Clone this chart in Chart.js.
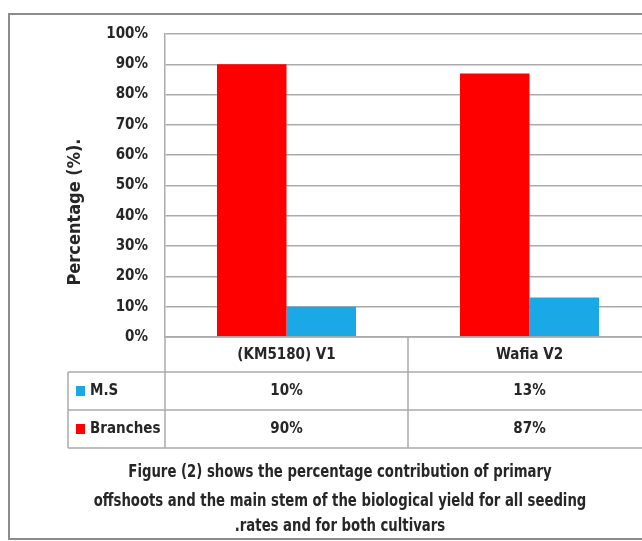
<!DOCTYPE html>
<html>
<head>
<meta charset="utf-8">
<title>Primary offshoots and main stem contribution</title>
<script src="https://cdn.jsdelivr.net/npm/chart.js@4.4.1/dist/chart.umd.min.js"></script>
<style>
  html, body { margin: 0; padding: 0; background: #fff; overflow: hidden; }
  #wrap { position: relative; width: 651px; height: 541px; }
</style>
</head>
<body>
<div id="wrap"><canvas id="canvas" width="651" height="541"></canvas></div>
<script>
// cultivars on the x axis and the two contributions (%)
var cultivars = ['(KM5180) V1', 'Wafia V2'];
var branches = [90, 87];
var mainStem = [10, 13];

var captionLines = [
    'Figure (2) shows the percentage contribution of primary',
    'offshoots and the main stem of the biological yield for all seeding',
    '.rates and for both cultivars'
];

var RED = '#ff0000';
var BLUE = '#1ba8e6';
var GRID = '#ababab';
var TEXT = '#262626';
var FONT = "'DejaVu Sans Condensed', 'Liberation Sans Narrow', sans-serif";

// frame, data table, axis title and caption
var tablePlugin = {
    id: 'dataTable',
    beforeDraw: function(chart) {
        var ctx = chart.ctx;
        ctx.save();
        ctx.fillStyle = '#fff';
        ctx.fillRect(0, 0, chart.width, chart.height);
        ctx.strokeStyle = '#8c8c8c';
        ctx.lineWidth = 2;
        ctx.strokeRect(9, 14, chart.width + 20, 525);
        ctx.restore();
    },
    afterDraw: function(chart) {
        var ctx = chart.ctx;
        var area = chart.chartArea;
        var xs = chart.scales.x;
        var top = area.bottom;
        var rowY = [top, top + 35, top + 73, top + 111];
        var legendLeft = 68;
        var mid = (xs.getPixelForValue(0) + xs.getPixelForValue(1)) / 2;

        ctx.save();
        ctx.strokeStyle = GRID;
        ctx.lineWidth = 1.5;
        ctx.beginPath();
        ctx.moveTo(area.left, rowY[0]); ctx.lineTo(chart.width, rowY[0]);
        for (var i = 1; i < rowY.length; i++) {
            ctx.moveTo(legendLeft, rowY[i]); ctx.lineTo(chart.width, rowY[i]);
        }
        ctx.moveTo(legendLeft, rowY[1]); ctx.lineTo(legendLeft, rowY[3]);
        ctx.moveTo(area.left, rowY[0]); ctx.lineTo(area.left, rowY[3]);
        ctx.moveTo(mid, rowY[0]); ctx.lineTo(mid, rowY[3]);
        ctx.stroke();

        ctx.fillStyle = TEXT;
        ctx.textAlign = 'center';
        ctx.textBaseline = 'middle';
        ctx.font = 'bold 15px ' + FONT;
        cultivars.forEach(function(c, i) {
            ctx.fillText(c, xs.getPixelForValue(i), (rowY[0] + rowY[1]) / 2 + 1);
        });

        // table rows: M.S first, then Branches
        var rows = [chart.data.datasets[1], chart.data.datasets[0]];
        rows.forEach(function(ds, r) {
            var cy = (rowY[r + 1] + rowY[r + 2]) / 2;
            ctx.fillStyle = ds.backgroundColor;
            ctx.fillRect(76, cy - 5, 9, 10);
            ctx.fillStyle = TEXT;
            ctx.textAlign = 'left';
            ctx.fillText(ds.label, 90, cy);
            ctx.textAlign = 'center';
            ds.data.forEach(function(v, i) {
                ctx.fillText(v + '%', xs.getPixelForValue(i), cy);
            });
        });

        // y axis title
        ctx.save();
        ctx.translate(75, 212);
        ctx.rotate(-Math.PI / 2);
        ctx.font = 'bold 18px ' + FONT;
        ctx.fillText('Percentage (%).', 0, 0);
        ctx.restore();

        // caption, set in a narrow bold face
        ctx.font = 'bold 17px ' + FONT;
        var capY = [473, 502, 527];
        captionLines.forEach(function(line, i) {
            ctx.save();
            ctx.translate(340, capY[i]);
            ctx.scale(0.866, 1);
            ctx.fillText(line, 0, 0);
            ctx.restore();
        });
        ctx.restore();
    }
};

var barChartData = {
    labels: cultivars,
    datasets: [
        {
            label: 'Branches',
            backgroundColor: RED,
            data: branches
        },
        {
            label: 'M.S',
            backgroundColor: BLUE,
            data: mainStem
        }
    ]
};

var options = {
    responsive: false,
    animation: false,
    layout: { padding: { left: 60, top: 34, right: 0, bottom: 204 } },
    plugins: { legend: { display: false }, tooltip: { enabled: false } },
    datasets: { bar: { categoryPercentage: 0.572, barPercentage: 1.0 } },
    scales: {
        x: { display: false },
        y: {
            min: 0,
            max: 100,
            afterFit: function(scale) { scale.width = 105; },
            ticks: {
                stepSize: 10,
                padding: 17,
                color: TEXT,
                font: { family: FONT, size: 15, weight: 'bold' },
                callback: function(v) { return v + '%'; }
            },
            grid: { color: GRID, lineWidth: 1.5, drawTicks: false },
            border: { display: true, color: GRID, width: 1.5 }
        }
    }
};

window.onload = function() {
    var ctx = document.getElementById('canvas').getContext('2d');
    window.myBarChart = new Chart(ctx, {
        type: 'bar',
        data: barChartData,
        options: options,
        plugins: [tablePlugin]
    });
};
</script>
</body>
</html>
